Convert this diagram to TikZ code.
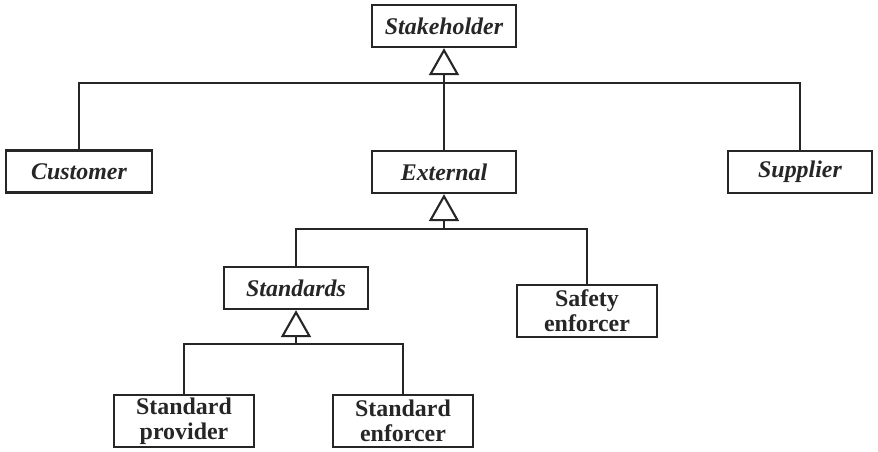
\documentclass[tikz,border=0pt]{standalone}
\usepackage{fontspec}
\setmainfont{Liberation Serif}
\usetikzlibrary{arrows.meta, positioning, calc}

\begin{document}
\begin{tikzpicture}[line join=miter, line cap=rect,
        cls/.style={draw=black!85, line width=1.3pt, minimum width=2.88cm,
            minimum height=0.84cm, inner sep=1pt, text=black!85,
            font=\fontsize{13.6}{14}\selectfont\bfseries\itshape},
        leaf/.style={cls, minimum width=2.8cm, minimum height=1.04cm,
            align=center, font=\fontsize{13.6}{14}\selectfont\bfseries},
        link/.style={draw=black!85, line width=1.2pt},
        gen/.style={link, -{Triangle[open, length=5.4mm, width=6mm, fill=white]}}]
    \useasboundingbox (0, 0) rectangle (17.56, 9.04);

    % top level
    \node[cls] (stake) at (8.88, 8.52) {Stakeholder};
    \node[cls, minimum width=2.92cm] (cust) at (1.58, 5.61) {Customer};
    \node[cls] (ext) at (8.88, 5.60) {External};
    \node[cls] (sup) at (16.00, 5.60) {Supplier};

    % external stakeholders
    \node[cls] (stds) at (5.92, 3.28) {Standards};
    \node[leaf] (safe) at (11.74, 2.82) {Safety\\enforcer};

    % standards bodies
    \node[leaf] (prov) at (3.68, 0.62) {Standard\\provider};
    \node[leaf] (enf) at (8.06, 0.62) {Standard\\enforcer};

    % junctions on the bars
    \coordinate (j1) at (8.88, 7.38);
    \coordinate (j2) at (8.88, 4.46);
    \coordinate (j3) at (5.92, 2.16);

    \draw[link] (cust.north) |- (j1) -| (sup.north);
    \draw[gen] (ext.north) -- (stake.south);

    \draw[link] (stds.north) |- (j2) -| (safe.north);
    \draw[gen] (j2) -- (ext.south);

    \draw[link] (prov.north) |- (j3) -| (enf.north);
    \draw[gen] (j3) -- (stds.south);
\end{tikzpicture}
\end{document}
